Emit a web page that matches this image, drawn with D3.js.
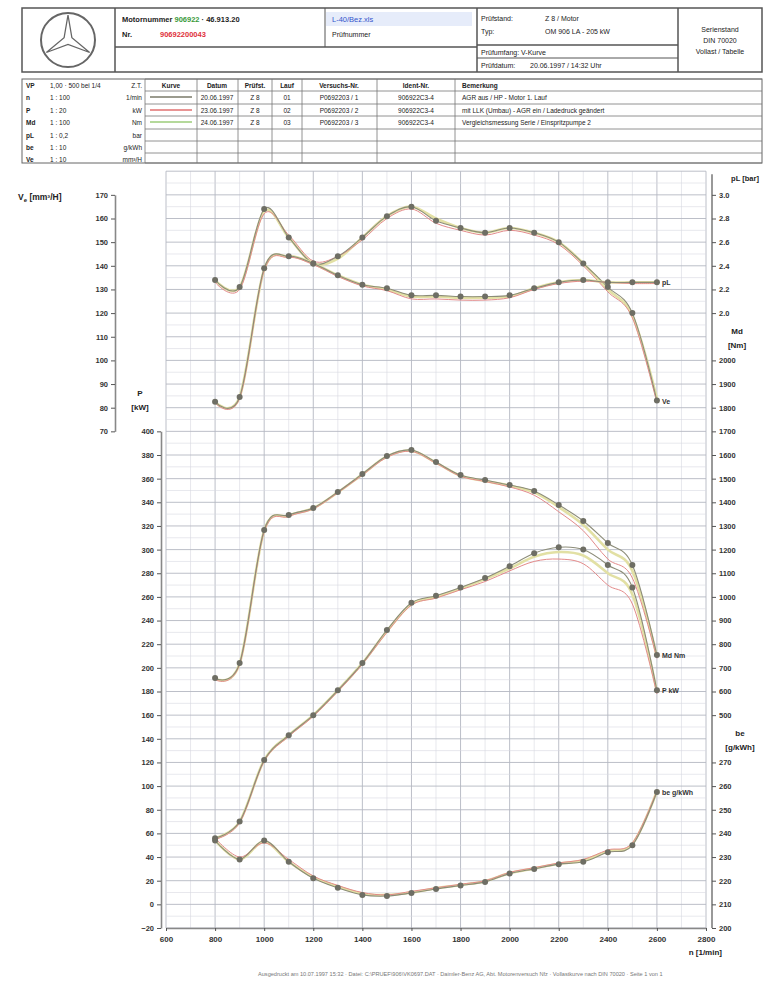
<!DOCTYPE html>
<html>
<head>
<meta charset="utf-8">
<script src="https://cdn.jsdelivr.net/npm/d3@7"></script>
<style>
  body { margin: 0; background: #fff; }
  svg { display: block; font-family: "Liberation Sans", Arial, sans-serif; }
</style>
</head>
<body>
<svg id="chart" width="769" height="988"></svg>
<script>
// Drehzahlstuetzstellen [1/min]
const rpm = [800, 900, 1000, 1100, 1200, 1300, 1400, 1500, 1600, 1700, 1800, 1900, 2000, 2100, 2200, 2300, 2400, 2500, 2600];

// Einspritzmenge Ve [mm3/H]
const veA = [134, 131, 164, 152, 141, 144, 152, 161, 165, 159, 156, 154, 156, 154, 150, 141, 131, 120, 83];
const veB = [133, 130, 162, 153, 142, 144, 151, 160, 164, 158, 155, 153, 155, 153, 149, 140, 129, 118, 82];
const veC = [134, 131, 163, 152, 141, 143, 152, 161, 165, 160, 156, 154, 156, 154, 150, 141, 130, 119, 84];

// Ladedruck pL [bar]
const plA = [1.25, 1.29, 2.38, 2.48, 2.42, 2.32, 2.24, 2.21, 2.15, 2.15, 2.14, 2.14, 2.15, 2.21, 2.26, 2.28, 2.26, 2.26, 2.26];
const plB = [1.24, 1.28, 2.36, 2.47, 2.41, 2.31, 2.23, 2.19, 2.12, 2.12, 2.11, 2.11, 2.13, 2.20, 2.25, 2.27, 2.26, 2.25, 2.25];
const plC = [1.25, 1.29, 2.37, 2.48, 2.42, 2.32, 2.24, 2.20, 2.14, 2.14, 2.13, 2.13, 2.14, 2.21, 2.26, 2.28, 2.26, 2.26, 2.26];

// Drehmoment Md [Nm]
const mdA = [657, 720, 1283, 1346, 1376, 1444, 1520, 1596, 1621, 1570, 1515, 1494, 1473, 1448, 1389, 1321, 1228, 1135, 754];
const mdB = [650, 715, 1275, 1340, 1372, 1440, 1515, 1590, 1615, 1565, 1510, 1488, 1465, 1430, 1360, 1280, 1160, 1080, 740];
const mdC = [655, 718, 1280, 1344, 1375, 1442, 1518, 1594, 1618, 1568, 1512, 1490, 1470, 1442, 1380, 1305, 1200, 1110, 748];

// Leistung P [kW]
const pA = [56, 70, 122, 143, 160, 181, 204, 232, 255, 261, 268, 276, 286, 297, 302, 300, 287, 268, 181];
const pB = [55, 69, 121, 142, 159, 180, 203, 230, 253, 259, 266, 273, 282, 290, 292, 288, 270, 254, 178];
const pC = [56, 70, 122, 143, 160, 181, 204, 231, 254, 260, 267, 275, 284, 294, 298, 295, 280, 262, 180];

// spez. Verbrauch be [g/kWh]
const beA = [237, 229, 237, 228, 221, 217, 214, 213.5, 214.8, 216.5, 218, 219.5, 223, 225, 227, 228, 232, 235, 257.5];
const beB = [238, 230, 236, 229, 222, 218, 215, 214, 215.5, 217, 218.5, 220, 223.5, 225.5, 227.5, 229, 233, 236, 258];
const beC = [237, 229, 236.5, 228, 221.5, 217.5, 214.5, 214, 215, 216.8, 218.2, 219.8, 223.2, 225.2, 227.2, 228.5, 232.5, 235.5, 257.8];

// Achsteilungen
const xTicks = d3.range(600, 2801, 200);
const veTicks = d3.range(70, 171, 10);
const plTicks = [2.0, 2.2, 2.4, 2.6, 2.8, 3.0];
const mdTicks = d3.range(500, 2001, 100);
const pTicks = d3.range(-20, 401, 20);
const beTicks = d3.range(200, 271, 10);

const svg = d3.select('#chart');

// Rasterzeilen (eine Zeile = ein Teilstrich)
const row = d3.scaleLinear().domain([0, 32]).range([928, 171.2]);
const x = d3.scaleLinear().domain([600, 2800]).range([166, 706]);
const ve = d3.scaleLinear().domain([70, 170]).range([row(21), row(31)]);
const pl = d3.scaleLinear().domain([2.0, 3.0]).range([row(26), row(31)]);
const md = d3.scaleLinear().domain([500, 2000]).range([row(9), row(24)]);
const pw = d3.scaleLinear().domain([-20, 400]).range([row(0), row(21)]);
const be = d3.scaleLinear().domain([200, 270]).range([row(0), row(7)]);

function txt(g, xx, yy, s, o = {}) {
	return g.append('text')
		.attr('x', xx).attr('y', yy)
		.attr('font-size', o.size || 7)
		.attr('font-weight', o.bold ? 'bold' : 'normal')
		.attr('fill', o.fill || '#222')
		.attr('text-anchor', o.anchor || 'start')
		.text(s);
}
function ln(g, x1, y1, x2, y2, w = 1, c = '#555') {
	g.append('line').attr('x1', x1).attr('y1', y1).attr('x2', x2).attr('y2', y2)
		.attr('stroke', c).attr('stroke-width', w);
}

// ---------- Kopf ----------
const head = svg.append('g');
head.append('rect').attr('x', 22).attr('y', 8).attr('width', 740).attr('height', 64)
	.attr('fill', 'none').attr('stroke', '#555').attr('stroke-width', 1.5);
ln(head, 115, 8, 115, 72, 1.5);
ln(head, 115, 47, 477, 47, 1.5);
ln(head, 325, 8, 325, 47, 1);
ln(head, 477, 8, 477, 72, 1.5);
ln(head, 477, 45, 678, 45, 1.5);
ln(head, 477, 58, 678, 58, 1);
ln(head, 678, 8, 678, 72, 1.5);

// Stern
head.append('circle').attr('cx', 68).attr('cy', 40).attr('r', 27)
	.attr('fill', 'none').attr('stroke', '#666').attr('stroke-width', 2);
const star = [];
for (let i = 0; i < 6; i++) {
	const a = (-90 + i * 60) * Math.PI / 180;
	const r = i % 2 === 0 ? 25 : 4.5;
	star.push([68 + r * Math.cos(a), 40 + r * Math.sin(a)]);
}
head.append('path').attr('d', 'M' + star.join('L') + 'Z')
	.attr('fill', '#fff').attr('stroke', '#666').attr('stroke-width', 1.3);

const t1 = txt(head, 122, 22, '', { size: 7.5, bold: true });
t1.append('tspan').text('Motornummer ');
t1.append('tspan').attr('fill', '#3a9a3a').text('906922');
t1.append('tspan').text('  ·  46.913.20');
txt(head, 122, 37, 'Nr.', { size: 7.5, bold: true });
txt(head, 160, 37, '90692200043', { size: 7.5, bold: true, fill: '#e0303a' });
head.append('rect').attr('x', 326).attr('y', 12).attr('width', 146).attr('height', 14).attr('fill', '#e6ecfa');
txt(head, 332, 22, 'L-40/Bez.xls', { size: 7.5, fill: '#3355cc' });
txt(head, 332, 37, 'Prüfnummer', { size: 7 });

txt(head, 481, 21, 'Prüfstand:', { size: 7 });
txt(head, 545, 21, 'Z 8 / Motor', { size: 7 });
txt(head, 481, 34, 'Typ:', { size: 7 });
txt(head, 545, 34, 'OM 906 LA - 205 kW', { size: 7 });
txt(head, 481, 55, 'Prüfumfang: V-Kurve', { size: 7 });
txt(head, 481, 68, 'Prüfdatum:', { size: 7 });
txt(head, 530, 68, '20.06.1997 / 14:32 Uhr', { size: 7 });
txt(head, 720, 32, 'Serienstand', { size: 7, anchor: 'middle' });
txt(head, 720, 43, 'DIN 70020', { size: 7, anchor: 'middle' });
txt(head, 720, 54, 'Vollast / Tabelle', { size: 7, anchor: 'middle' });

// ---------- Tabelle ----------
const tab = svg.append('g');
const rowY = [79, 91, 104, 116, 129, 141, 153, 163];
tab.append('rect').attr('x', 22).attr('y', 79).attr('width', 740).attr('height', 84)
	.attr('fill', 'none').attr('stroke', '#666').attr('stroke-width', 1);
rowY.forEach((yy) => ln(tab, 145, yy, 762, yy, 0.8, '#777'));
[145, 197, 238, 272, 302, 377, 455].forEach((xx) => ln(tab, xx, 79, xx, 163, 0.8, '#777'));

const scaleRows = [
	['VP', '1,00 · 500 bei 1/4', 'Z.T.'],
	['n', '1 : 100', '1/min'],
	['P', '1 : 20', 'kW'],
	['Md', '1 : 100', 'Nm'],
	['pL', '1 : 0,2', 'bar'],
	['be', '1 : 10', 'g/kWh'],
	['Ve', '1 : 10', 'mm³/H'],
];
scaleRows.forEach((r, i) => {
	const yy = rowY[i] + 9;
	txt(tab, 26, yy, r[0], { size: 6.5, bold: true });
	txt(tab, 50, yy, r[1], { size: 6.5 });
	txt(tab, 142, yy, r[2], { size: 6.5, anchor: 'end' });
});

const colHead = [[171, 'Kurve', 'middle'], [217, 'Datum', 'middle'], [255, 'Prüfst.', 'middle'],
	[287, 'Lauf', 'middle'], [339, 'Versuchs-Nr.', 'middle'], [416, 'Ident-Nr.', 'middle'], [462, 'Bemerkung', 'start']];
colHead.forEach((c) => txt(tab, c[0], 88, c[1], { size: 6.5, bold: true, anchor: c[2] }));

const seriesColors = ['#7a7a6a', '#e07070', '#9ccc7a'];
const runs = [
	['20.06.1997', 'Z 8', '01', 'P0692203 / 1', '906922C3-4', 'AGR aus / HP - Motor 1. Lauf'],
	['23.06.1997', 'Z 8', '02', 'P0692203 / 2', '906922C3-4', 'mit LLK (Umbau) - AGR ein / Ladedruck geändert'],
	['24.06.1997', 'Z 8', '03', 'P0692203 / 3', '906922C3-4', 'Vergleichsmessung Serie / Einspritzpumpe 2'],
];
runs.forEach((r, i) => {
	const yy = rowY[i + 1] + 9;
	ln(tab, 150, yy - 3, 192, yy - 3, 1.5, seriesColors[i]);
	txt(tab, 217, yy, r[0], { size: 6.5, anchor: 'middle' });
	txt(tab, 255, yy, r[1], { size: 6.5, anchor: 'middle' });
	txt(tab, 287, yy, r[2], { size: 6.5, anchor: 'middle' });
	txt(tab, 339, yy, r[3], { size: 6.5, anchor: 'middle' });
	txt(tab, 416, yy, r[4], { size: 6.5, anchor: 'middle' });
	txt(tab, 462, yy, r[5], { size: 6.5 });
});

// ---------- Raster ----------
const grid = svg.append('g');
d3.range(600, 2801, 100).forEach((n) => {
	ln(grid, x(n), row(32), x(n), row(0), n % 200 === 0 ? 0.9 : 0.6, n % 200 === 0 ? '#b4b8c2' : '#d6d9e0');
});
d3.range(0, 32.01, 0.5).forEach((r) => {
	ln(grid, x(600), row(r), x(2800), row(r), r % 1 === 0 ? 0.9 : 0.6, r % 1 === 0 ? '#b4b8c2' : '#d6d9e0');
});

// ---------- Achsen ----------
function styleAxis(g) {
	g.selectAll('.tick text').attr('font-size', 7.5).attr('font-weight', 'bold').attr('fill', '#333');
	g.selectAll('.tick line').attr('stroke', '#555');
	g.select('.domain').attr('stroke', '#888').attr('stroke-width', 1.6);
}
svg.append('g').attr('transform', 'translate(115,0)')
	.call(d3.axisLeft(ve).tickValues(veTicks).tickSize(4).tickSizeOuter(0).tickPadding(3))
	.call(styleAxis);
svg.append('g').attr('transform', 'translate(161,0)')
	.call(d3.axisLeft(pw).tickValues(pTicks).tickFormat(d3.format('d')).tickSize(4).tickSizeOuter(0).tickPadding(3))
	.call(styleAxis);

ln(svg, 712, row(32) + 3, 712, row(0), 2, '#999');
[[pl, plTicks, d3.format('.1f')], [md, mdTicks, d3.format('d')], [be, beTicks, d3.format('d')]].forEach((a) => {
	svg.append('g').attr('transform', 'translate(712,0)')
		.call(d3.axisRight(a[0]).tickValues(a[1]).tickFormat(a[2]).tickSize(4).tickSizeOuter(0).tickPadding(3))
		.call(styleAxis)
		.call((g) => g.select('.domain').remove());
});

svg.append('g').attr('transform', `translate(0,${row(0)})`)
	.call(d3.axisBottom(x).tickValues(xTicks).tickFormat(d3.format('d')).tickSize(3).tickSizeOuter(0).tickPadding(5))
	.call(styleAxis)
	.call((g) => g.selectAll('.tick text').attr('font-size', 8));

// Achsbeschriftungen
const vt = txt(svg, 18, 200, '', { size: 8.5, bold: true });
vt.append('tspan').text('V');
vt.append('tspan').attr('font-size', 6).attr('dy', 2).text('e');
vt.append('tspan').attr('dy', -2).text(' [mm³/H]');
txt(svg, 140, 396, 'P', { size: 8, bold: true, anchor: 'middle' });
txt(svg, 140, 410, '[kW]', { size: 8, bold: true, anchor: 'middle' });
txt(svg, 745, 181, 'pL [bar]', { size: 7.5, bold: true, anchor: 'middle' });
txt(svg, 737, 334, 'Md', { size: 8, bold: true, anchor: 'middle' });
txt(svg, 737, 348, '[Nm]', { size: 8, bold: true, anchor: 'middle' });
txt(svg, 740, 736, 'be', { size: 8, bold: true, anchor: 'middle' });
txt(svg, 740, 750, '[g/kWh]', { size: 8, bold: true, anchor: 'middle' });
txt(svg, 722, 955, 'n [1/min]', { size: 8, bold: true, anchor: 'end' });

// ---------- Kurven ----------
const curves = svg.append('g');
const quantities = [
	{ s: ve, runs: [veA, veB, veC], label: 'Ve' },
	{ s: pl, runs: [plA, plB, plC], label: 'pL' },
	{ s: md, runs: [mdA, mdB, mdC], label: 'Md Nm' },
	{ s: pw, runs: [pA, pB, pC], label: 'P kW' },
	{ s: be, runs: [beA, beB, beC], label: 'be g/kWh' },
];
const styles = [
	{ c: '#8c8c78', w: 1.1 },
	{ c: '#e38a8a', w: 1 },
	{ c: '#e2e0a4', w: 2.6 },
];
quantities.forEach((q) => {
	[2, 1, 0].forEach((k) => {
		const line = d3.line()
			.x((d, i) => x(rpm[i]))
			.y((d) => q.s(d))
			.curve(d3.curveCardinal.tension(0));
		curves.append('path').datum(q.runs[k]).attr('d', line)
			.attr('fill', 'none').attr('stroke', styles[k].c).attr('stroke-width', styles[k].w);
	});
	curves.append('g').selectAll('circle').data(q.runs[0]).join('circle')
		.attr('cx', (d, i) => x(rpm[i])).attr('cy', (d) => q.s(d)).attr('r', 3)
		.attr('fill', '#6e6e64');
	const last = q.runs[0][q.runs[0].length - 1];
	curves.append('text').attr('x', x(rpm[rpm.length - 1]) + 5).attr('y', q.s(last) + 3)
		.attr('font-size', 7).attr('font-weight', 'bold').attr('fill', '#333').text(q.label);
});

// Fusszeile
txt(svg, 258, 976, 'Ausgedruckt am 10.07.1997 15:32  ·  Datei: C:\\PRUEF\\906\\VK0697.DAT  ·  Daimler-Benz AG, Abt. Motorenversuch Nfz  ·  Vollastkurve nach DIN 70020  ·  Seite 1 von 1',
	{ size: 5.6, fill: '#777' });
</script>
</body>
</html>
